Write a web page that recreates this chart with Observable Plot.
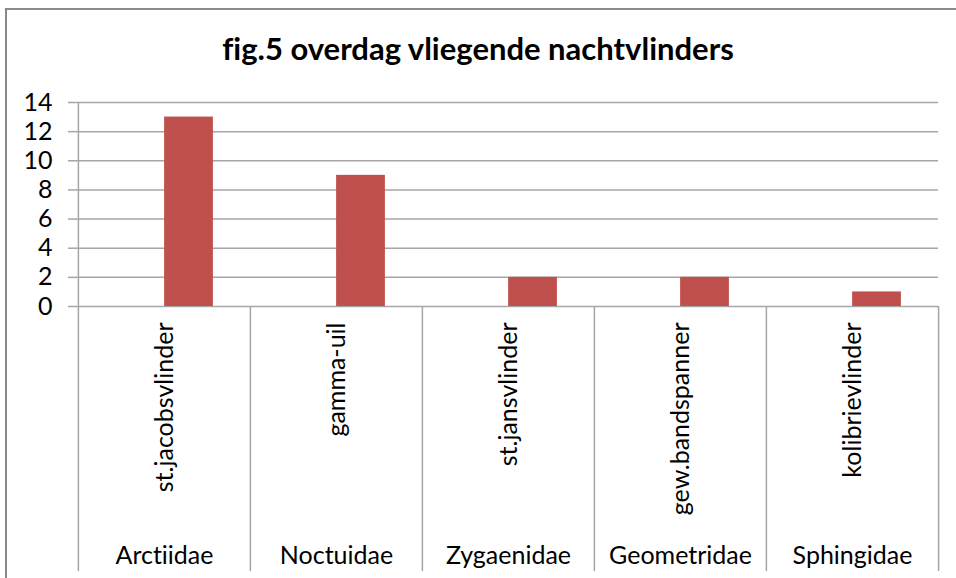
<!DOCTYPE html>
<html>
<head>
<meta charset="utf-8">
<script src="https://cdn.jsdelivr.net/npm/d3@7"></script>
<script src="https://cdn.jsdelivr.net/npm/@observablehq/plot@0.6"></script>
<style>
  html, body { margin: 0; padding: 0; background: #fff; }
  #wrap { position: relative; width: 956px; height: 578px; overflow: hidden; background: #fff; font-family: Lato, "Open Sans", sans-serif; font-variant-ligatures: none; }
  #frame { position: absolute; left: 5px; top: 8px; width: 960px; height: 580px; border-top: 2px solid #8a8a8a; border-left: 2px solid #8a8a8a; box-sizing: border-box; }
  #title { position: absolute; left: 0; width: 956px; top: 30px; text-align: center; font-weight: bold; font-size: 31px; line-height: 37px; color: #000; white-space: nowrap; font-variant-ligatures: none; }
  #chart { position: absolute; left: 0; top: 90px; }
</style>
</head>
<body>
<div id="wrap">
  <div id="frame"></div>
  <div id="title">fig.5 overdag vliegende nachtvlinders</div>
  <div id="chart"></div>
</div>
<script>
const species = ["st.jacobsvlinder", "gamma-uil", "st.jansvlinder", "gew.bandspanner", "kolibrievlinder"];
const families = ["Arctiidae", "Noctuidae", "Zygaenidae", "Geometridae", "Sphingidae"];
const counts = [13, 9, 2, 2, 1];
const yTicks = [0, 2, 4, 6, 8, 10, 12, 14];

const data = species.map((s, i) => ({species: s, family: families[i], count: counts[i]}));

const W = 956, H = 488;
const mL = 77, mR = 18, mT = 12, mB = 7;
const bw = (W - mL - mR) / species.length;
const yMin = -(H - mB - 216) / ((216 - mT) / 14);
const grid = "#a6a6a6";
const fs = 25;

const chart = Plot.plot({
  width: W,
  height: H,
  marginLeft: mL,
  marginRight: mR,
  marginTop: mT,
  marginBottom: mB,
  style: {fontFamily: "Lato, 'Open Sans', sans-serif", fontSize: fs + "px", color: "#000", background: "transparent", overflow: "visible", fontVariantLigatures: "none"},
  x: {type: "band", domain: species, paddingInner: 0, paddingOuter: 0, axis: null},
  y: {domain: [yMin, 14], axis: null},
  marks: [
    Plot.ruleY(yTicks, {y: d => d, stroke: grid, strokeWidth: 1.5, strokeOpacity: 1}),
    Plot.axisY({ticks: yTicks, label: null, tickSize: 9, tickPadding: 16, fontSize: fs, stroke: grid, strokeWidth: 1.5, strokeOpacity: 1, tickFormat: d => String(d), fill: "#000"}),
    Plot.ruleX(species, {x: d => d, dx: -bw / 2, y1: yMin, y2: d => d === species[0] ? 14 : 0, stroke: grid, strokeWidth: 1.5}),
    Plot.ruleX([species[species.length - 1]], {x: d => d, dx: bw / 2, y1: yMin, y2: 0, stroke: grid, strokeWidth: 1.5}),
    Plot.barY(data, {x: "species", y: "count", fill: "#C0504D", insetLeft: bw / 2, insetRight: bw / 2 - 49}),
    Plot.text(data, {x: "species", y: 0, text: "species", rotate: -90, textAnchor: "end", lineAnchor: "middle", dy: 16, fontSize: fs, fill: "#000"}),
    Plot.text(data, {x: "species", y: yMin, text: "family", textAnchor: "middle", lineAnchor: "middle", dy: -16, fontSize: fs, fill: "#000"})
  ]
});
document.getElementById("chart").appendChild(chart);
</script>
</body>
</html>
